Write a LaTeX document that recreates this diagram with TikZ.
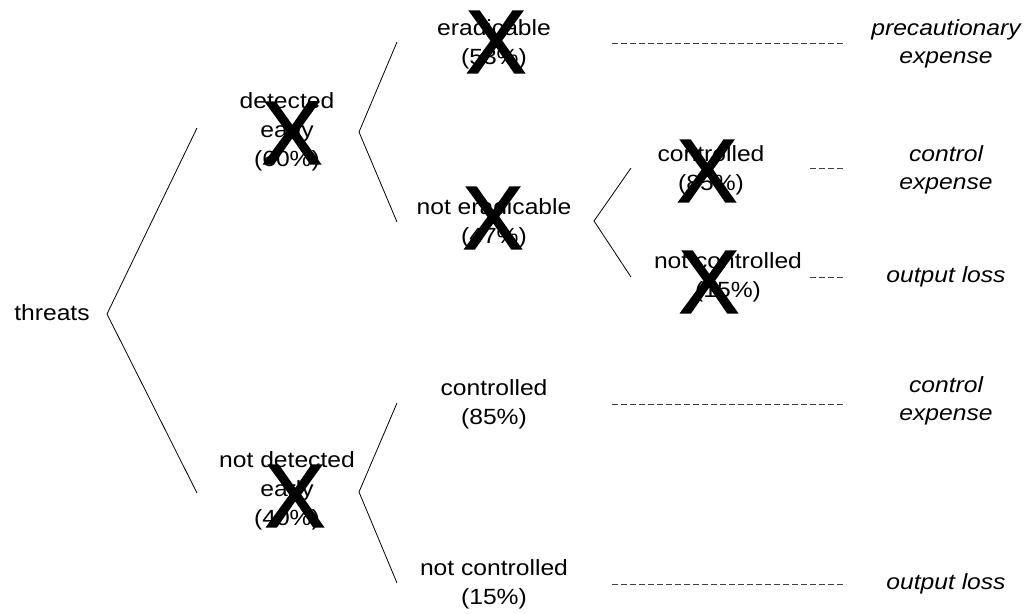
\documentclass[tikz,border=0pt]{standalone}
\usepackage{fontspec}
\newfontfamily\lab[FakeStretch=1.12]{Liberation Sans}
\newfontfamily\xfont[FakeBold=2]{Liberation Sans}
\begin{document}
\begin{tikzpicture}[x=1pt,y=-1pt,
  lbl/.style={inner sep=0pt, align=center, font=\lab\fontsize{22}{29}\selectfont},
  res/.style={lbl, font=\lab\itshape\fontsize{22}{28.5}\selectfont},
  cross/.style={inner sep=0pt, font=\xfont\fontsize{89}{89}\selectfont},
  branch/.style={draw=black, line width=0.8pt},
  lead/.style={draw=black!75, line width=0.8pt, dash pattern=on 5.5pt off 3.5pt}]
\useasboundingbox (0,0) rectangle (1032,613);

% labels
\node[lbl] (thr) at (52,313) {threats};
\node[lbl] (det) at (287,132) {detected\\early\\(60\%)};
\node[lbl] (ndet) at (287,491) {not detected\\early\\(40\%)};
\node[lbl] (era) at (494,44) {eradicable\\(53\%)};
\node[lbl] (nera) at (494,223) {not eradicable\\(47\%)};
\node[lbl] (uc) at (711,170) {controlled\\(85\%)};
\node[lbl] (unc) at (728,277) {not controlled\\(15\%)};
\node[lbl] (lc) at (494,404) {controlled\\(85\%)};
\node[lbl] (lnc) at (494,584) {not controlled\\(15\%)};

% outcomes
\node[res] (o1) at (946,44) {precautionary\\expense};
\node[res] (o2) at (946,170) {control\\expense};
\node[res] (o3) at (946,277) {output loss};
\node[res] (o4) at (946,401) {control\\expense};
\node[res] (o5) at (946,584) {output loss};

% crosses
\node[cross] (x1) at (292,133) {X};
\node[cross] (x2) at (496,42) {X};
\node[cross] (x3) at (493,218) {X};
\node[cross] (x4) at (707,171) {X};
\node[cross] (x5) at (709,282) {X};
\node[cross] (x6) at (295,496) {X};

% branch points
\coordinate (b0) at (107,314);
\coordinate (b0u) at (197,128);
\coordinate (b0d) at (197,493);
\coordinate (b1) at (359,132);
\coordinate (b1u) at (397,42);
\coordinate (b1d) at (397,222);
\coordinate (b2) at (359,492);
\coordinate (b2u) at (397,403);
\coordinate (b2d) at (397,583);
\coordinate (b3) at (594,221);
\coordinate (b3u) at (631,168);
\coordinate (b3d) at (631,277);

\draw[branch] (b0u) -- (b0) -- (b0d);
\draw[branch] (b1u) -- (b1) -- (b1d);
\draw[branch] (b2u) -- (b2) -- (b2d);
\draw[branch] (b3u) -- (b3) -- (b3d);

% leader lines
\coordinate (d1a) at (612,43);  \coordinate (d1b) at (846,43);
\coordinate (d2a) at (810,168); \coordinate (d2b) at (845,168);
\coordinate (d3a) at (810,277); \coordinate (d3b) at (845,277);
\coordinate (d4a) at (612,404); \coordinate (d4b) at (846,404);
\coordinate (d5a) at (612,584); \coordinate (d5b) at (846,584);
\draw[lead] (d1a) -- (d1b);
\draw[lead] (d2a) -- (d2b);
\draw[lead] (d3a) -- (d3b);
\draw[lead] (d4a) -- (d4b);
\draw[lead] (d5a) -- (d5b);
\end{tikzpicture}
\end{document}
